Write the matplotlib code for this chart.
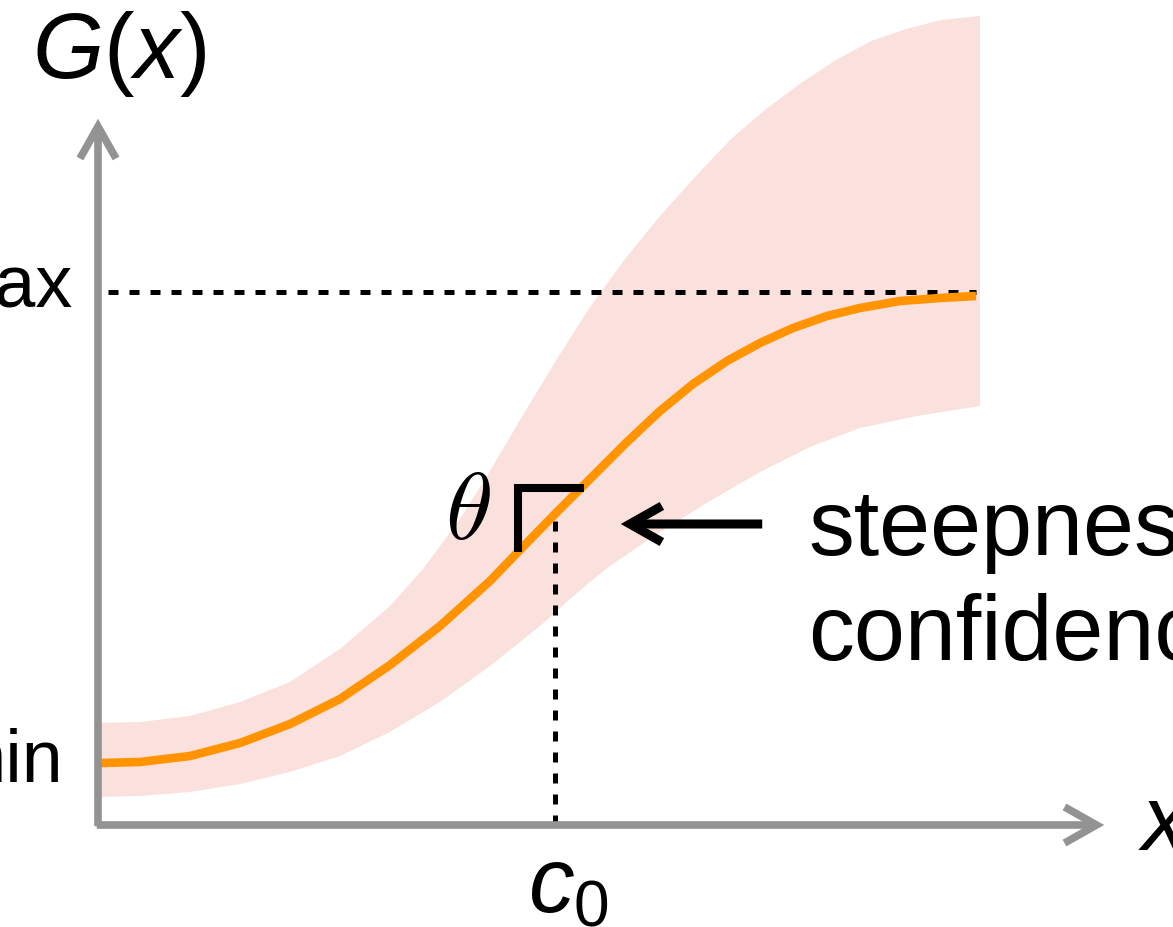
import matplotlib
matplotlib.use("Agg")
import matplotlib.pyplot as plt
from matplotlib.patches import FancyArrowPatch, ArrowStyle

# --- Données (unités = pixels depuis l'origine) ---
courbe_x = [2, 42, 92, 142, 192, 242, 292, 342, 392, 419, 457, 492, 529, 562,
            595, 629, 662, 695, 729, 762, 802, 842, 878]
courbe_y = [62, 63, 69, 82, 101, 126, 160, 199, 244, 272, 311, 346, 383, 414,
            441, 464, 482, 497, 509, 517, 524, 527, 529]

bande_haut_x = [0, 42, 92, 142, 192, 242, 292, 325, 362, 392, 422, 457, 492,
                527, 562, 598, 633, 668, 703, 738, 773, 808, 843, 882]
bande_haut_y = [102, 103, 109, 123, 143, 176, 219, 256, 306, 354, 405, 463, 518,
                566, 609, 649, 686, 716, 742, 765, 784, 796, 805, 809]

bande_bas_x = [0, 42, 92, 142, 192, 242, 292, 342, 392, 442, 472, 492, 512,
               562, 612, 662, 712, 762, 819, 882]
bande_bas_y = [28, 29, 33, 41, 53, 69, 93, 123, 159, 199, 226, 243, 259,
               293, 324, 353, 378, 397, 409, 419]

niveau_max = 533
c0 = 457
c0_y = 306
fin_courbe = 878

# --- Style ---
plt.rcParams['mathtext.fontset'] = 'custom'
plt.rcParams['mathtext.it'] = 'Liberation Sans:italic'
plt.rcParams['mathtext.rm'] = 'Liberation Sans'
plt.rcParams['font.family'] = 'Liberation Sans'

GRIS = '#939393'
ORANGE = '#FF9400'
ROSE = '#FBE1DE'

fig = plt.figure(figsize=(11.73, 9.28), dpi=100)
ax = fig.add_axes([0, 0, 1, 1])
ax.set_xlim(-98, 1075)
ax.set_ylim(-102, 826)
ax.axis('off')

# bande de confiance
ax.fill(bande_haut_x + bande_bas_x[::-1], bande_haut_y + bande_bas_y[::-1],
        color=ROSE, lw=0, zorder=1)

# lignes pointillées
ax.plot([10, fin_courbe], [niveau_max, niveau_max], color='black', lw=3.6,
        dashes=(2.0, 2.2), zorder=2)
ax.plot([c0, c0], [0, c0_y], color='black', lw=3.6, dashes=(2.0, 2.2), zorder=2)

# courbe
ax.plot(courbe_x, courbe_y, color=ORANGE, lw=6.2, solid_capstyle='butt',
        solid_joinstyle='round', zorder=3)

# axes avec flèches
style_axe = ArrowStyle('->', head_length=23, head_width=13)
ax.add_patch(FancyArrowPatch((0, -4), (0, 709), arrowstyle=style_axe,
                             mutation_scale=1, color=GRIS, lw=5.5,
                             capstyle='butt', joinstyle='miter', zorder=4))
ax.add_patch(FancyArrowPatch((-4, 0), (1009, 0), arrowstyle=style_axe,
                             mutation_scale=1, color=GRIS, lw=5.5,
                             capstyle='butt', joinstyle='miter', zorder=4))

# angle theta
ax.plot([420, 420, 486], [273, 337, 337], color='black', lw=5.8,
        solid_joinstyle='miter', solid_capstyle='butt', zorder=5)
ax.text(370, 312, r'$\theta$', fontsize=69, math_fontfamily='cm',
        ha='center', va='center', zorder=5)

# flèche vers la courbe
ax.add_patch(FancyArrowPatch((667, 301), (520, 301),
                             arrowstyle=ArrowStyle('->', head_length=23, head_width=13),
                             mutation_scale=1, color='black', lw=6.5,
                             capstyle='butt', joinstyle='miter', zorder=5))

# textes
ax.text(-66, 748, r'$G(x)$', fontsize=66, ha='left', va='baseline')
ax.text(-26, 519, 'max', fontsize=53, ha='right', va='baseline')
ax.text(-35, 44, 'min', fontsize=53, ha='right', va='baseline')
ax.text(430, -86, r'$c_0$', fontsize=66, ha='left', va='baseline')
ax.text(1040, -24, r'$x$', fontsize=66, ha='left', va='baseline')
ax.text(710, 271, 'steepness', fontsize=66, ha='left', va='baseline')
ax.text(710, 166, 'confidence', fontsize=66, ha='left', va='baseline')

plt.savefig('out.png', dpi=100)
